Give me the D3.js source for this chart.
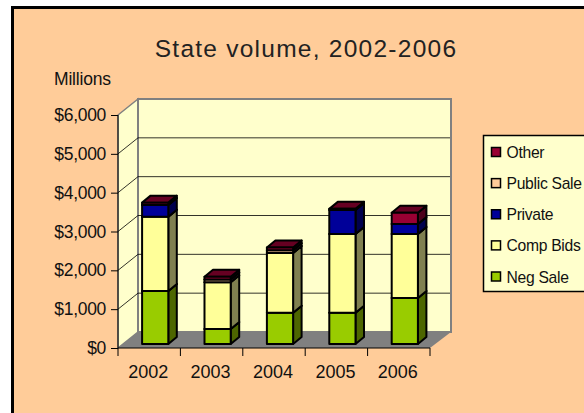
<!DOCTYPE html>
<html><head><meta charset="utf-8">
<script src="https://cdn.jsdelivr.net/npm/d3@7"></script>
<style>html,body{margin:0;padding:0;background:#fff;overflow:hidden}svg{display:block}text{font-family:"Liberation Sans",Arial,sans-serif;fill:#111}</style>
</head><body><svg id="c" width="584" height="413"></svg>
<script>
const years = ["2002","2003","2004","2005","2006"];
const seriesNames = ["Neg Sale","Comp Bids","Private","Public Sale","Other"];
const negSale   = [1365, 386, 806, 806, 1185];
const compBids  = [1913, 1204, 1537, 2027, 1648];
const privateS  = [302, 0, 0, 617, 257];
const publicSale= [0, 70, 70, 0, 0];
const other     = [60, 70, 70, 30, 290];
const seriesValues = [negSale, compBids, privateS, publicSale, other];
const tickValues = [0,1000,2000,3000,4000,5000,6000];
const colors = ["#99cc00","#ffff99","#000099","#ffcc99","#990033"];
const sideColors = ["#4d6600","#808050","#00004d","#806650","#4d001a"];
const topColors = ["#7a9f00","#cccc7a","#00007a","#cca37a","#660022"];

const svg = d3.select("#c");
svg.append("rect").attr("x",12.5).attr("y",7.5).attr("width",620).attr("height",460)
  .attr("fill","#ffcc99").attr("stroke","#000").attr("stroke-width",3);

const x = d3.scaleBand().domain(years).range([118,430]).paddingInner(0.58).paddingOuter(0.29);
const y = d3.scaleLinear().domain([0,6000]).range([348,115]);
const DX=20, DY=-16, bx=6, by=-4, bdx=8.5, bdy=-7;

const yTop=y(6000), y0=y(0);
svg.append("path").attr("d",`M118,${y0}L118,${yTop}L${118+DX},${yTop+DY}L${118+DX},${y0+DY}Z`).attr("fill","#ffffcc").attr("stroke","#808080").attr("stroke-width",1.5);
svg.append("rect").attr("x",118+DX).attr("y",yTop+DY).attr("width",430-118+1).attr("height",y0-yTop)
  .attr("fill","#ffffcc").attr("stroke","#808080").attr("stroke-width",2);
svg.append("path").attr("d",`M118,${y0}L430,${y0}L${430+DX+1},${y0+DY}L${118+DX},${y0+DY}Z`).attr("fill","#808080");
tickValues.slice(1,-1).forEach(v=>{
  svg.append("path").attr("d",`M118,${y(v)}L${118+DX},${y(v)+DY}L${430+DX},${y(v)+DY}`).attr("fill","none").attr("stroke","#000").attr("stroke-width",1).attr("opacity",.8);
});
svg.append("path").attr("d",`M118,${yTop}L118,${y0}L430,${y0}`).attr("fill","none").attr("stroke","#000").attr("stroke-width",1);

const yAxis = d3.axisLeft(y).tickValues(tickValues).tickFormat(d=>"$"+d3.format(",")(d)).tickSize(7).tickPadding(5);
const gy = svg.append("g").attr("transform","translate(118,0)").call(yAxis);
gy.select(".domain").remove();
gy.selectAll("text").attr("font-size",17.5).attr("letter-spacing",-0.3).attr("font-family",'"Liberation Sans"');
const stepX = x.step();
const gx = svg.append("g").attr("transform",`translate(0,${y0})`);
gx.selectAll("line").data(d3.range(years.length+1)).join("line")
  .attr("x1",i=>118+i*stepX).attr("x2",i=>118+i*stepX).attr("y1",0).attr("y2",8).attr("stroke","#000");
gx.selectAll("text").data(years).join("text").attr("x",d=>x(d)+x.bandwidth()/2-1).attr("y",30).attr("text-anchor","middle").attr("font-size",18).text(d=>d);

const stacked = d3.stack().keys(d3.range(seriesNames.length)).value((d,k)=>seriesValues[k][d])(d3.range(years.length));
const bars = svg.append("g");
stacked.forEach((layer,k)=>{
  layer.forEach((seg,i)=>{
    if(seg[1]-seg[0]<=0) return;
    const xl=x(years[i])+bx, xr=xl+x.bandwidth();
    const yb=y(seg[0])+by, yt=y(seg[1])+by;
    const g=bars.append("g").attr("stroke","#000").attr("stroke-width",2).attr("stroke-linejoin","round");
    g.append("path").attr("d",`M${xr},${yb}L${xr+bdx},${yb+bdy}L${xr+bdx},${yt+bdy}L${xr},${yt}Z`).attr("fill",sideColors[k]);
    g.append("path").attr("d",`M${xl},${yt}L${xl+bdx},${yt+bdy}L${xr+bdx},${yt+bdy}L${xr},${yt}Z`).attr("fill",topColors[k]);
    g.append("rect").attr("x",xl).attr("y",yt).attr("width",xr-xl).attr("height",yb-yt).attr("fill",colors[k]);
  });
});

svg.append("text").attr("x",306).attr("y",57).attr("text-anchor","middle").attr("font-size",24.5).attr("letter-spacing",1.25).style("fill","#222").text("State volume, 2002-2006");
svg.append("text").attr("x",54).attr("y",85).attr("font-size",17.5).attr("letter-spacing",-0.2).text("Millions");

svg.append("rect").attr("x",483.5).attr("y",135.5).attr("width",120).attr("height",156).attr("fill","#ffffcc").attr("stroke","#000").attr("stroke-width",1.5);
const legY = d3.scalePoint().domain([...seriesNames].reverse()).range([152,276.5]);
const leg = svg.append("g");
seriesNames.forEach((n,k)=>{
  const cy=legY(n);
  leg.append("rect").attr("x",491.5).attr("y",cy-4.5).attr("width",9).attr("height",9).attr("fill",colors[k]).attr("stroke","#000").attr("stroke-width",1.5);
  leg.append("text").attr("x",506.5).attr("y",cy+6).attr("font-size",15.7).attr("letter-spacing",-0.3).text(n);
});
</script></body></html>
